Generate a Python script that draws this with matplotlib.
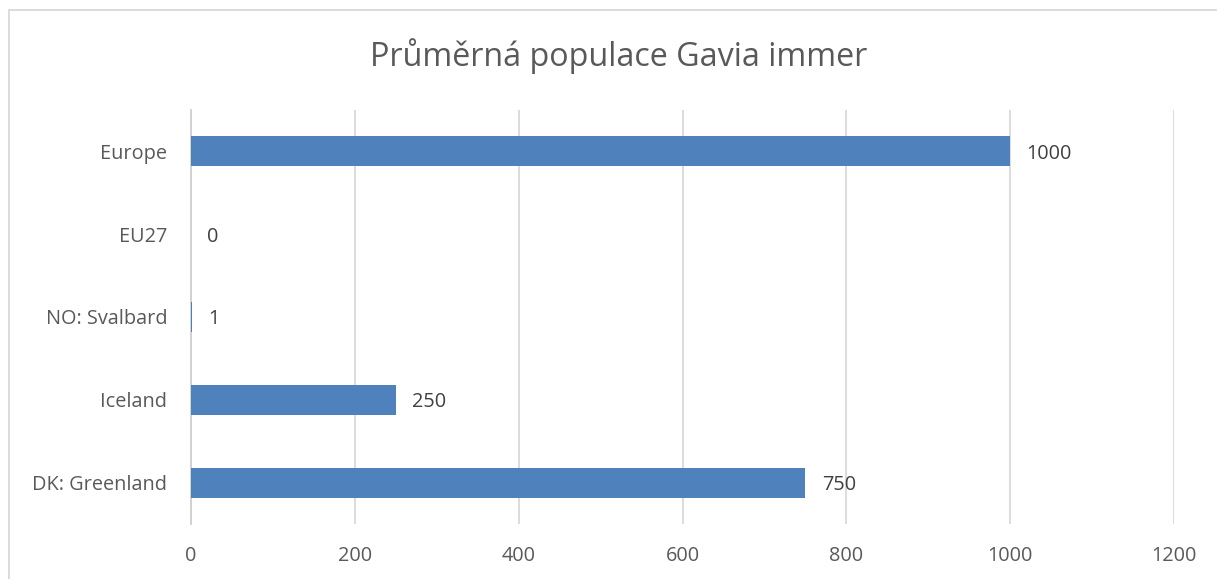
import matplotlib
matplotlib.use("Agg")
import matplotlib.pyplot as plt
from matplotlib.patches import Rectangle

categories = ["DK: Greenland", "Iceland", "NO: Svalbard", "EU27", "Europe"]
values = [750, 250, 1, 0, 1000]
xticks = [0, 200, 400, 600, 800, 1000, 1200]
title = "Průměrná populace Gavia immer"

plt.rcParams['font.family'] = ['Open Sans', 'DejaVu Sans']

W, H = 1217, 579
fig = plt.figure(figsize=(W / 100, H / 100), dpi=100)
ax = fig.add_axes([191 / W, 1 - 524 / H, (1174 - 191) / W, (524 - 110) / H])

ypos = list(range(len(categories)))
ax.barh(ypos, values, height=0.36, color="#4F81BD", zorder=3)
for y, v in zip(ypos, values):
    ax.text(v + 20, y - 0.03, str(v), va="center", ha="left", fontsize=14.3, color="#404040")

ax.set_xlim(0, 1200)
ax.set_ylim(-0.5, len(categories) - 0.5)
ax.set_xticks(xticks)
ax.set_xticklabels([str(t) for t in xticks])
ax.set_yticks(ypos)
ax.set_yticklabels(categories)
ax.tick_params(axis="both", length=0, labelsize=14.3, labelcolor="#595959")
ax.tick_params(axis="x", pad=16)
ax.tick_params(axis="y", pad=17)
ax.xaxis.grid(True, color="#d9d9d9", linewidth=1.3, zorder=0)
for s in ["top", "right", "bottom"]:
    ax.spines[s].set_visible(False)
ax.spines["left"].set_color("#d0d0d0")
ax.spines["left"].set_linewidth(1.3)

fig.text(619 / W, 1 - 56 / H, title, ha="center", va="center", fontsize=23.2, color="#595959")

fig.patches.append(Rectangle((9 / W, -0.1), 1.2, 1.1 - 10 / H, transform=fig.transFigure,
                             fill=False, edgecolor="#d9d9d9", linewidth=1.3))

fig.savefig("out.png", dpi=100)
